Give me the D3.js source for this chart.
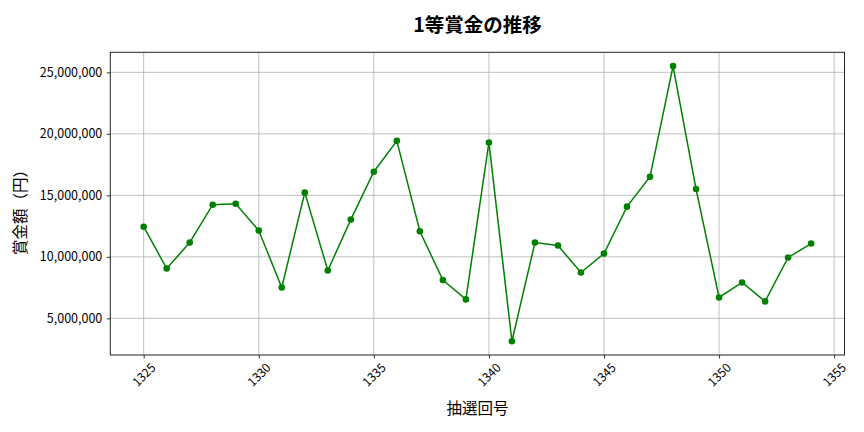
<!DOCTYPE html>
<html lang="ja">
<head>
<meta charset="utf-8">
<script src="https://cdn.jsdelivr.net/npm/d3@7"></script>
<style>
  body { margin: 0; background: #fff; }
  text { font-family: "Noto Sans CJK JP", "Noto Sans", sans-serif; }
</style>
</head>
<body>
<div id="chart"></div>
<script>
// 抽選回号
var kaigo = [1325, 1326, 1327, 1328, 1329, 1330, 1331, 1332, 1333, 1334,
             1335, 1336, 1337, 1338, 1339, 1340, 1341, 1342, 1343, 1344,
             1345, 1346, 1347, 1348, 1349, 1350, 1351, 1352, 1353, 1354];
// 1等賞金（円）
var shokin = [12450000, 9050000, 11160000, 14240000, 14320000, 12140000, 7510000, 15220000, 8890000, 13030000,
              16920000, 19430000, 12080000, 8110000, 6540000, 19300000, 3140000, 11160000, 10920000, 8730000,
              10270000, 14080000, 16510000, 25510000, 15510000, 6700000, 7920000, 6380000, 9950000, 11080000];
var xTicks = [1325, 1330, 1335, 1340, 1345, 1350, 1355];
var yTicks = [5000000, 10000000, 15000000, 20000000, 25000000];

var W = 864, H = 432;
var margin = {top: 52.3, right: 864 - 844.5, bottom: 432 - 355, left: 110.3};
var w = W - margin.left - margin.right, h = H - margin.top - margin.bottom;

var svg = d3.select('#chart').append('svg')
  .attr('width', W).attr('height', H);

var g = svg.append('g')
  .attr('transform', 'translate(' + margin.left + ',' + margin.top + ')');

// 5% の余白 (matplotlib と同じ)
var xr = d3.extent(kaigo), xp = (xr[1] - xr[0]) * 0.05;
var yr = d3.extent(shokin), yp = (yr[1] - yr[0]) * 0.05;

var x = d3.scaleLinear().domain([xr[0] - xp, xr[1] + xp]).range([0, w]);
var y = d3.scaleLinear().domain([yr[0] - yp, yr[1] + yp]).range([h, 0]);

// グリッド
g.append('g').selectAll('line').data(xTicks).enter().append('line')
  .attr('x1', d => x(d)).attr('x2', d => x(d))
  .attr('y1', 0).attr('y2', h)
  .attr('stroke', '#b0b0b0').attr('stroke-width', 0.8);
g.append('g').selectAll('line').data(yTicks).enter().append('line')
  .attr('y1', d => y(d)).attr('y2', d => y(d))
  .attr('x1', 0).attr('x2', w)
  .attr('stroke', '#b0b0b0').attr('stroke-width', 0.8);

// 軸
var xAxis = g.append('g')
  .attr('transform', 'translate(0,' + h + ')')
  .call(d3.axisBottom(x).tickValues(xTicks).tickFormat(d3.format('d')).tickSize(3.5).tickSizeOuter(0));
// ラベルは中心で45度回転
xAxis.selectAll('.tick text')
  .attr('font-size', 12)
  .attr('text-anchor', 'middle')
  .attr('dominant-baseline', 'central')
  .attr('y', 0).attr('dy', null)
  .attr('transform', 'translate(-1,19) rotate(-45)');

var yAxis = g.append('g')
  .call(d3.axisLeft(y).tickValues(yTicks).tickFormat(d3.format(',')).tickSize(3.5).tickPadding(4.5).tickSizeOuter(0));
yAxis.selectAll('text').attr('font-size', 12.5);

g.selectAll('.domain').remove();
g.selectAll('.tick line').attr('stroke', '#000').attr('stroke-width', 0.8);
g.selectAll('.tick text').attr('fill', '#000');

// 枠
g.append('rect')
  .attr('width', w).attr('height', h)
  .attr('fill', 'none').attr('stroke', '#222').attr('stroke-width', 1);

// 折れ線
var line = d3.line()
  .x((d, i) => x(kaigo[i]))
  .y(d => y(d));

g.append('path')
  .datum(shokin)
  .attr('d', line)
  .attr('fill', 'none')
  .attr('stroke', 'green')
  .attr('stroke-width', 1.5);

g.selectAll('circle.pt').data(shokin).enter().append('circle')
  .attr('class', 'pt')
  .attr('cx', (d, i) => x(kaigo[i]))
  .attr('cy', d => y(d))
  .attr('r', 3.3)
  .attr('fill', 'green');

// タイトルとラベル
svg.append('text')
  .attr('x', 477.5).attr('y', 32)
  .attr('text-anchor', 'middle')
  .attr('font-size', 19.5).attr('font-weight', 'bold')
  .text('1等賞金の推移');

svg.append('text')
  .attr('x', 477.5).attr('y', 414)
  .attr('text-anchor', 'middle')
  .attr('font-size', 15.5)
  .text('抽選回号');

svg.append('text')
  .attr('transform', 'translate(26,' + 208.5 + ') rotate(-90)')
  .attr('text-anchor', 'middle')
  .attr('font-size', 15.5)
  .text('賞金額（円）');
</script>
</body>
</html>
